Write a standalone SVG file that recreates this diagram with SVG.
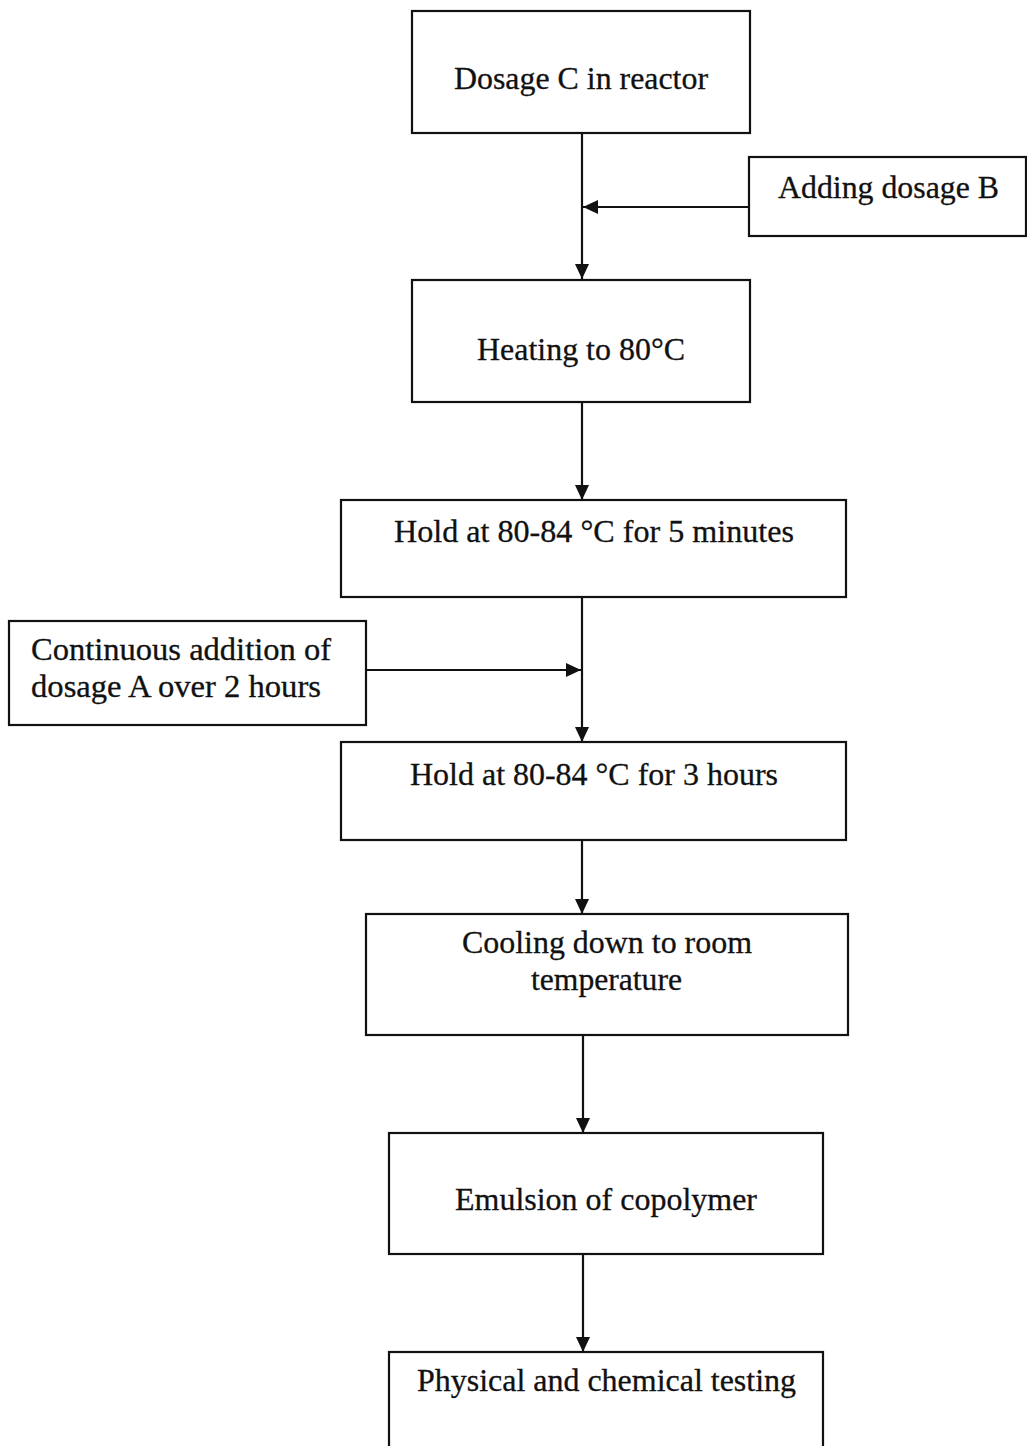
<svg xmlns="http://www.w3.org/2000/svg" width="1027" height="1446" viewBox="0 0 1027 1446">
<defs>
<marker id="arr" markerUnits="userSpaceOnUse" markerWidth="16" markerHeight="14" refX="15" refY="7" orient="auto">
<path d="M0,0 L15,7 L0,14 z" fill="#111"/>
</marker>
<style>
.box{fill:#fff;stroke:#111;stroke-width:2.2}
.t{font-size:31px;fill:#111;stroke:#111;stroke-width:0.3}
.c{stroke:#111;stroke-width:2.2;fill:none;marker-end:url(#arr)}
</style>
</defs>
<rect width="1027" height="1446" fill="#fff"/>
<g id="connectors">
<line class="c" x1="582" y1="133" x2="582" y2="279"/>
<line class="c" x1="749" y1="207" x2="583" y2="207"/>
<line class="c" x1="582" y1="402" x2="582" y2="500"/>
<line class="c" x1="582" y1="597" x2="582" y2="742"/>
<line class="c" x1="367" y1="670" x2="581" y2="670"/>
<line class="c" x1="582" y1="840" x2="582" y2="914"/>
<line class="c" x1="583" y1="1035" x2="583" y2="1133"/>
<line class="c" x1="583" y1="1254" x2="583" y2="1352"/>
</g>
<g font-family="Liberation Serif, Times New Roman, Times, serif">
<g id="n1"><rect class="box" x="412" y="11" width="338" height="122"/>
<text class="t" x="454" y="89" textLength="254" lengthAdjust="spacingAndGlyphs">Dosage C in reactor</text></g>
<g id="nB"><rect class="box" x="749" y="157" width="277" height="79"/>
<text class="t" x="778" y="198" textLength="221" lengthAdjust="spacingAndGlyphs">Adding dosage B</text></g>
<g id="n2"><rect class="box" x="412" y="280" width="338" height="122"/>
<text class="t" x="477" y="360" textLength="208" lengthAdjust="spacingAndGlyphs">Heating to 80°C</text></g>
<g id="n3"><rect class="box" x="341" y="500" width="505" height="97"/>
<text class="t" x="394" y="542" textLength="400" lengthAdjust="spacingAndGlyphs">Hold at 80-84 °C for 5 minutes</text></g>
<g id="nA"><rect class="box" x="9" y="621" width="357" height="104"/>
<text class="t" x="31" y="660" textLength="300" lengthAdjust="spacingAndGlyphs">Continuous addition of</text>
<text class="t" x="31" y="697" textLength="290" lengthAdjust="spacingAndGlyphs">dosage A over 2 hours</text></g>
<g id="n4"><rect class="box" x="341" y="742" width="505" height="98"/>
<text class="t" x="410" y="785" textLength="368" lengthAdjust="spacingAndGlyphs">Hold at 80-84 °C for 3 hours</text></g>
<g id="n5"><rect class="box" x="366" y="914" width="482" height="121"/>
<text class="t" x="462" y="953" textLength="290" lengthAdjust="spacingAndGlyphs">Cooling down to room</text>
<text class="t" x="531" y="990" textLength="151" lengthAdjust="spacingAndGlyphs">temperature</text></g>
<g id="n6"><rect class="box" x="389" y="1133" width="434" height="121"/>
<text class="t" x="455" y="1210" textLength="302" lengthAdjust="spacingAndGlyphs">Emulsion of copolymer</text></g>
<g id="n7"><rect class="box" x="389" y="1352" width="434" height="110"/>
<text class="t" x="417" y="1391" textLength="379" lengthAdjust="spacingAndGlyphs">Physical and chemical testing</text></g>
</g>
</svg>
